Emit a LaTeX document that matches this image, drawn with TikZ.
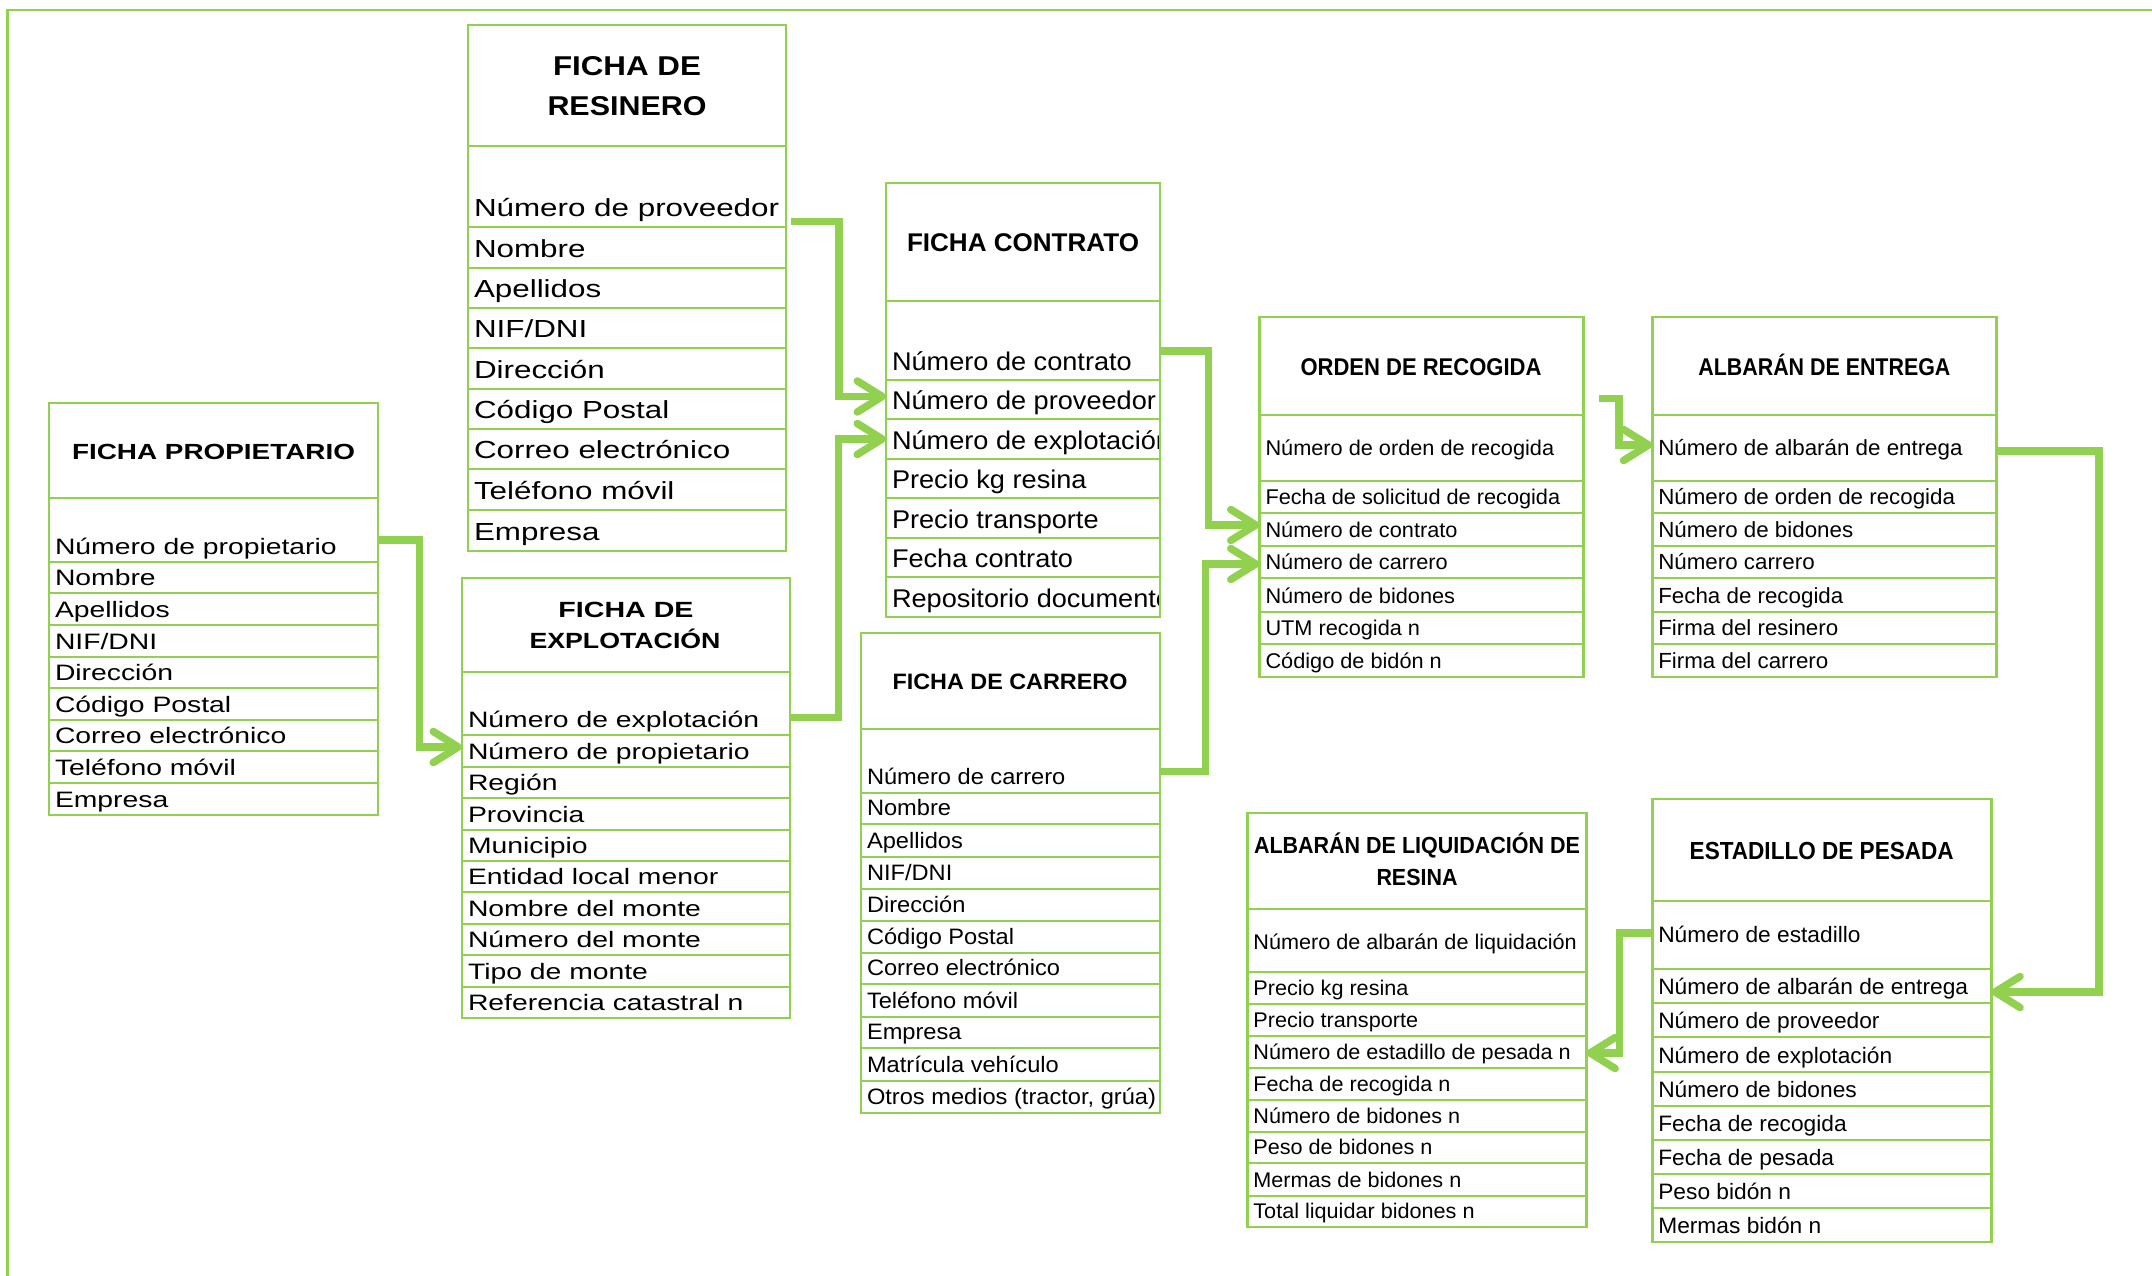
\documentclass[tikz,border=0pt]{standalone}
\usepackage{graphicx}
\usepackage{fontspec}
\setmainfont{Liberation Sans}
\newfontfamily\fwide{Liberation Sans}[FakeStretch=1.27]
\newfontfamily\fmid{Liberation Sans}[FakeStretch=1.06]
\newfontfamily\fnarrow{Liberation Sans}[FakeStretch=1.02]
\usetikzlibrary{arrows.meta}
\definecolor{lgreen}{RGB}{146,208,80}

% one table cell (style prefix, name, x, top, bottom)
\newcommand\tcell[5]{\node[#1 cell, minimum height=#5-#4, anchor=north west] (#2) at (#3,#4) {};}
% the text of a cell, baseline raised above the cell bottom
\newcommand\ttext[4]{\node[#1 txt, anchor=base west] (#2t) at ([xshift=6pt,yshift=#3]#2.south west) {#4};}
\newcommand\tabrow[7]{\tcell{#1}{#2}{#3}{#4}{#5}\ttext{#1}{#2}{#6}{#7}}

\tikzset{
  cell/.style={rectangle, draw=lgreen, line width=2.5pt, inner sep=0pt, outer sep=0pt},
  txt/.style={inner sep=0pt, outer sep=0pt, text=black},
  hdr/.style={inner sep=0pt, outer sep=0pt, text=black, anchor=base},
  conn/.style={draw=lgreen, line width=7.5pt, -{Straight Barb[length=25pt,width=31pt,line width=7.5pt,round]}},
  frame/.style={draw=lgreen, line width=2.5pt},
  fr cell/.style={cell, minimum width=318},
  fr txt/.style={txt, font=\fwide\fontsize{24.7}{28}\selectfont},
  fp cell/.style={cell, minimum width=329},
  fp txt/.style={txt, font=\fwide\fontsize{22.3}{26}\selectfont},
  fe cell/.style={cell, minimum width=328},
  fe txt/.style={txt, font=\fwide\fontsize{22.3}{26}\selectfont},
  fc cell/.style={cell, minimum width=274},
  fc txt/.style={txt, font=\fmid\fontsize{25.6}{29}\selectfont},
  ca cell/.style={cell, minimum width=299},
  ca txt/.style={txt, font=\fmid\fontsize{22.3}{26}\selectfont},
  or cell/.style={cell, minimum width=324},
  or txt/.style={txt, font=\fnarrow\fontsize{21.3}{25}\selectfont},
  al cell/.style={cell, minimum width=344},
  al txt/.style={txt, font=\fnarrow\fontsize{21.9}{25}\selectfont},
  es cell/.style={cell, minimum width=339},
  es txt/.style={txt, font=\fnarrow\fontsize{22.3}{26}\selectfont},
  lq cell/.style={cell, minimum width=339},
  lq txt/.style={txt, font=\fnarrow\fontsize{21.2}{25}\selectfont},
}

\begin{document}
\begin{tikzpicture}[x=1pt,y=-1pt]
\useasboundingbox (0,0) rectangle (2152,1275);
\fill[white] (0,0) rectangle (2152,1275);

% page frame (top and left edges)
\draw[frame] (7.7,1285) -- (7.7,10) -- (2165,10);

% ---------------- Ficha de resinero ----------------
\tcell{fr}{fr0}{468}{25}{146}
\node[hdr, font=\bfseries\fontsize{27.2}{30}\selectfont] (frh1) at (627,75) {\resizebox{148pt}{\height}{FICHA DE}};
\node[hdr, font=\bfseries\fontsize{27.2}{30}\selectfont] (frh2) at (627,115) {\resizebox{159pt}{\height}{RESINERO}};
\tabrow{fr}{fr1}{468}{146}{227}{11}{Número de proveedor}
\tabrow{fr}{fr2}{468}{227}{268}{11}{Nombre}
\tabrow{fr}{fr3}{468}{268}{308}{11}{Apellidos}
\tabrow{fr}{fr4}{468}{308}{348}{11}{NIF/DNI}
\tabrow{fr}{fr5}{468}{348}{389}{11}{Dirección}
\tabrow{fr}{fr6}{468}{389}{429}{11}{Código Postal}
\tabrow{fr}{fr7}{468}{429}{469}{11}{Correo electrónico}
\tabrow{fr}{fr8}{468}{469}{510}{11}{Teléfono móvil}
\tabrow{fr}{fr9}{468}{510}{551}{11}{Empresa}

% ---------------- Ficha propietario ----------------
\tcell{fp}{fp0}{49}{403}{498}
\node[hdr, font=\bfseries\fontsize{21.9}{26}\selectfont] (fph1) at (213.5,459) {\resizebox{283pt}{\height}{FICHA PROPIETARIO}};
\tabrow{fp}{fp1}{49}{498}{562}{8}{Número de propietario}
\tabrow{fp}{fp2}{49}{562}{593}{8}{Nombre}
\tabrow{fp}{fp3}{49}{593}{625}{8}{Apellidos}
\tabrow{fp}{fp4}{49}{625}{657}{8}{NIF/DNI}
\tabrow{fp}{fp5}{49}{657}{688}{8}{Dirección}
\tabrow{fp}{fp6}{49}{688}{720}{8}{Código Postal}
\tabrow{fp}{fp7}{49}{720}{751}{8}{Correo electrónico}
\tabrow{fp}{fp8}{49}{751}{783}{8}{Teléfono móvil}
\tabrow{fp}{fp9}{49}{783}{815}{8}{Empresa}

% ---------------- Ficha de explotación ----------------
\tcell{fe}{fe0}{462}{578}{672}
\node[hdr, font=\bfseries\fontsize{22}{26}\selectfont] (feh1) at (626,617.3) {\resizebox{135pt}{\height}{FICHA DE}};
\node[hdr, font=\bfseries\fontsize{22}{26}\selectfont] (feh2) at (625,648.3) {\resizebox{191pt}{\height}{EXPLOTACIÓN}};
\tabrow{fe}{fe1}{462}{672}{735}{7.5}{Número de explotación}
\tabrow{fe}{fe2}{462}{735}{767}{7.5}{Número de propietario}
\tabrow{fe}{fe3}{462}{767}{798}{7.5}{Región}
\tabrow{fe}{fe4}{462}{798}{830}{7.5}{Provincia}
\tabrow{fe}{fe5}{462}{830}{861}{7.5}{Municipio}
\tabrow{fe}{fe6}{462}{861}{892}{7.5}{Entidad local menor}
\tabrow{fe}{fe7}{462}{892}{924}{7.5}{Nombre del monte}
\tabrow{fe}{fe8}{462}{924}{955}{7.5}{Número del monte}
\tabrow{fe}{fe9}{462}{955}{987}{7.5}{Tipo de monte}
\tabrow{fe}{fe10}{462}{987}{1018}{7.5}{Referencia catastral n}

% ---------------- Ficha contrato ----------------
\tcell{fc}{fc0}{886}{183}{301}
\node[hdr, font=\bfseries\fontsize{25.6}{29}\selectfont] (fch1) at (1023,251.7) {\resizebox{232pt}{\height}{FICHA CONTRATO}};
\tcell{fc}{fc1}{886}{301}{380}
\tcell{fc}{fc2}{886}{380}{419}
\tcell{fc}{fc3}{886}{419}{459}
\tcell{fc}{fc4}{886}{459}{498}
\tcell{fc}{fc5}{886}{498}{538}
\tcell{fc}{fc6}{886}{538}{577}
\tcell{fc}{fc7}{886}{577}{617}
\begin{scope}
  \clip (886,183) rectangle (1158.8,617);
  \ttext{fc}{fc1}{10}{Número de contrato}
  \ttext{fc}{fc2}{10}{Número de proveedor}
  \ttext{fc}{fc3}{10}{Número de explotación}
  \ttext{fc}{fc4}{10}{Precio kg resina}
  \ttext{fc}{fc5}{10}{Precio transporte}
  \ttext{fc}{fc6}{10}{Fecha contrato}
  \ttext{fc}{fc7}{10}{Repositorio documentos}
\end{scope}

% ---------------- Ficha de carrero ----------------
\tcell{ca}{ca0}{861}{633}{729}
\node[hdr, font=\bfseries\fontsize{22.3}{26}\selectfont] (cah1) at (1010,689.3) {\resizebox{235pt}{\height}{FICHA DE CARRERO}};
\tcell{ca}{ca1}{861}{729}{793}
\tcell{ca}{ca2}{861}{793}{824}
\tcell{ca}{ca3}{861}{824}{857}
\tcell{ca}{ca4}{861}{857}{889}
\tcell{ca}{ca5}{861}{889}{921}
\tcell{ca}{ca6}{861}{921}{953}
\tcell{ca}{ca7}{861}{953}{984}
\tcell{ca}{ca8}{861}{984}{1017}
\tcell{ca}{ca9}{861}{1017}{1048}
\tcell{ca}{ca10}{861}{1048}{1081}
\tcell{ca}{ca11}{861}{1081}{1113}
\begin{scope}
  \clip (861,633) rectangle (1158.8,1113);
  \ttext{ca}{ca1}{8.3}{Número de carrero}
  \ttext{ca}{ca2}{8.3}{Nombre}
  \ttext{ca}{ca3}{8.3}{Apellidos}
  \ttext{ca}{ca4}{8.3}{NIF/DNI}
  \ttext{ca}{ca5}{8.3}{Dirección}
  \ttext{ca}{ca6}{8.3}{Código Postal}
  \ttext{ca}{ca7}{8.3}{Correo electrónico}
  \ttext{ca}{ca8}{8.3}{Teléfono móvil}
  \ttext{ca}{ca9}{8.3}{Empresa}
  \ttext{ca}{ca10}{8.3}{Matrícula vehículo}
  \ttext{ca}{ca11}{8.3}{Otros medios (tractor, grúa)}
\end{scope}

% ---------------- Orden de recogida ----------------
\tcell{or}{or0}{1259.5}{317}{415}
\node[hdr, font=\bfseries\fontsize{24.2}{28}\selectfont] (orh1) at (1421,375.7) {\resizebox{241pt}{\height}{ORDEN DE RECOGIDA}};
\tabrow{or}{or1}{1259.5}{415}{481}{25.3}{Número de orden de recogida}
\tabrow{or}{or2}{1259.5}{481}{513}{8.3}{Fecha de solicitud de recogida}
\tabrow{or}{or3}{1259.5}{513}{546}{8.3}{Número de contrato}
\tabrow{or}{or4}{1259.5}{546}{578}{8.3}{Número de carrero}
\tabrow{or}{or5}{1259.5}{578}{612}{8.3}{Número de bidones}
\tabrow{or}{or6}{1259.5}{612}{644}{8.3}{UTM recogida n}
\tabrow{or}{or7}{1259.5}{644}{677}{8.3}{Código de bidón n}

% ---------------- Albarán de entrega ----------------
\tcell{al}{al0}{1652.3}{317}{415}
\node[hdr, font=\bfseries\fontsize{24.2}{28}\selectfont] (alh1) at (1824.4,375.7) {\resizebox{252pt}{\height}{ALBARÁN DE ENTREGA}};
\tabrow{al}{al1}{1652.3}{415}{481}{25.3}{Número de albarán de entrega}
\tabrow{al}{al2}{1652.3}{481}{513}{8.3}{Número de orden de recogida}
\tabrow{al}{al3}{1652.3}{513}{546}{8.3}{Número de bidones}
\tabrow{al}{al4}{1652.3}{546}{578}{8.3}{Número carrero}
\tabrow{al}{al5}{1652.3}{578}{612}{8.3}{Fecha de recogida}
\tabrow{al}{al6}{1652.3}{612}{644}{8.3}{Firma del resinero}
\tabrow{al}{al7}{1652.3}{644}{677}{8.3}{Firma del carrero}

% ---------------- Estadillo de pesada ----------------
\tcell{es}{es0}{1652.3}{799}{901}
\node[hdr, font=\bfseries\fontsize{24.7}{28}\selectfont] (esh1) at (1821.7,859.3) {\resizebox{264pt}{\height}{ESTADILLO DE PESADA}};
\tabrow{es}{es1}{1652.3}{901}{969}{26.3}{Número de estadillo}
\tabrow{es}{es2}{1652.3}{969}{1003}{9}{Número de albarán de entrega}
\tabrow{es}{es3}{1652.3}{1003}{1037}{9}{Número de proveedor}
\tabrow{es}{es4}{1652.3}{1037}{1072}{9}{Número de explotación}
\tabrow{es}{es5}{1652.3}{1072}{1106}{9}{Número de bidones}
\tabrow{es}{es6}{1652.3}{1106}{1140}{9}{Fecha de recogida}
\tabrow{es}{es7}{1652.3}{1140}{1174}{9}{Fecha de pesada}
\tabrow{es}{es8}{1652.3}{1174}{1208}{9}{Peso bidón n}
\tabrow{es}{es9}{1652.3}{1208}{1242}{9}{Mermas bidón n}

% ---------------- Albarán de liquidación de resina ----------------
\tcell{lq}{lq0}{1247.4}{813}{909}
\node[hdr, font=\bfseries\fontsize{23.3}{27}\selectfont] (lqh1) at (1417,853.3) {\resizebox{326pt}{\height}{ALBARÁN DE LIQUIDACIÓN DE}};
\node[hdr, font=\bfseries\fontsize{23.3}{27}\selectfont] (lqh2) at (1417,885) {\resizebox{81pt}{\height}{RESINA}};
\tabrow{lq}{lq1}{1247.4}{909}{972}{23}{Número de albarán de liquidación}
\tabrow{lq}{lq2}{1247.4}{972}{1004}{8.3}{Precio kg resina}
\tabrow{lq}{lq3}{1247.4}{1004}{1036}{8.3}{Precio transporte}
\tabrow{lq}{lq4}{1247.4}{1036}{1068}{8.3}{Número de estadillo de pesada n}
\tabrow{lq}{lq5}{1247.4}{1068}{1100}{8.3}{Fecha de recogida n}
\tabrow{lq}{lq6}{1247.4}{1100}{1132}{8.3}{Número de bidones n}
\tabrow{lq}{lq7}{1247.4}{1132}{1163}{8.3}{Peso de bidones n}
\tabrow{lq}{lq8}{1247.4}{1163}{1196}{8.3}{Mermas de bidones n}
\tabrow{lq}{lq9}{1247.4}{1196}{1227}{8.3}{Total liquidar bidones n}

% ---------------- connectors ----------------
\draw[conn] ([yshift=-10pt]fp1.east) -- ++(41.4,0) |- ([yshift=4pt]fe2.west);
\draw[conn] ([xshift=5pt,yshift=-35pt]fr1.east) -- ++(47.9,0) |- ([yshift=3pt]fc2.west);
\draw[conn] ([yshift=-14pt]fe1.east) -- ++(48.7,0) |- (fc3.west);
\draw[conn] ([yshift=-10.3pt]fc1.east) -- ++(48.6,0) |- ([yshift=4.5pt]or3.west);
\draw[conn] ([yshift=-10.7pt]ca1.east) -- ++(45.5,0) |- ([yshift=-2pt]or4.west);
\coordinate (orout) at ([xshift=15.3pt,yshift=16.7pt]or1.north east);
\draw[conn] (orout) -- ++(20,0) |- ([yshift=3pt]al1.west);
\draw[conn] ([yshift=-3pt]al1.east) -- ++(102.5,0) |- ([yshift=-6pt]es2.east);
\draw[conn] ([yshift=2pt]es1.west) -- ++(-33,0) |- ([yshift=-1pt]lq4.east);
\end{tikzpicture}
\end{document}
